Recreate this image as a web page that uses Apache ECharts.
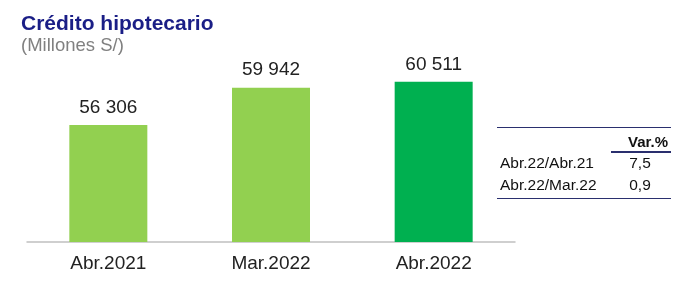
<!DOCTYPE html>
<html><head><meta charset="utf-8">
<script src="https://cdn.jsdelivr.net/npm/echarts@6/dist/echarts.min.js"></script>
<style>html,body{margin:0;padding:0;background:#fff}#c{width:696px;height:281px}</style>
</head><body><div id="c"></div>
<script>
const categories = ['Abr.2021', 'Mar.2022', 'Abr.2022'];
const values = [56306, 59942, 60511];
const barColors = ['#92d050', '#92d050', '#00b050'];
const tableRows = ['Abr.22/Abr.21', 'Abr.22/Mar.22'];
const tableVals = ['7,5', '0,9'];

const fmt = v => String(v).replace(/\B(?=(\d{3})+(?!\d))/g, ' ');
const chart = echarts.init(document.getElementById('c'));
const F = '"Liberation Sans", Arial, sans-serif';
const lineColor = '#2a2f6e';
const graphic = [
  {type:'text', x:21, y:24.4, style:{text:'Crédito hipotecario', font:'bold 21px '+F, fill:'#1a1e86', verticalAlign:'middle'}},
  {type:'text', x:21, y:46, style:{text:'(Millones S/)', font:'18.5px '+F, fill:'#808080', verticalAlign:'middle'}},
  {type:'line', shape:{x1:497,y1:127.5,x2:671,y2:127.5}, style:{stroke:lineColor,lineWidth:1}},
  {type:'text', x:668, y:143, style:{text:'Var.%', font:'bold 15px '+F, fill:'#111', align:'right', verticalAlign:'middle'}},
  {type:'line', shape:{x1:611,y1:152,x2:671,y2:152}, style:{stroke:lineColor,lineWidth:2}},
  {type:'line', shape:{x1:497,y1:198.5,x2:671,y2:198.5}, style:{stroke:lineColor,lineWidth:1}}
];
tableRows.forEach((r,i)=>{
  graphic.push({type:'text', x:500, y:164+i*21.5, style:{text:r, font:'15.5px '+F, fill:'#111', verticalAlign:'middle'}});
  graphic.push({type:'text', x:640, y:164+i*21.5, style:{text:tableVals[i], font:'15.5px '+F, fill:'#111', align:'center', verticalAlign:'middle'}});
});
chart.setOption({
  animation:false,
  grid:{left:27, right:181, top:60, bottom:39},
  xAxis:{type:'category', data:categories,
    axisLine:{lineStyle:{color:'#c0c0c0', width:1.5}}, axisTick:{show:false},
    axisLabel:{color:'#222', fontSize:19, fontFamily:F, margin:12}},
  yAxis:{type:'value', min:44900, max:62640, show:false, splitLine:{show:false}},
  series:[{type:'bar', barWidth:78,
    data: values.map((v,i)=>({value:v, itemStyle:{color:barColors[i]}})),
    label:{show:true, position:'top', distance:8, color:'#222', fontSize:19, fontFamily:F,
      formatter:p=>fmt(p.value)}}],
  graphic
});
</script></body></html>
